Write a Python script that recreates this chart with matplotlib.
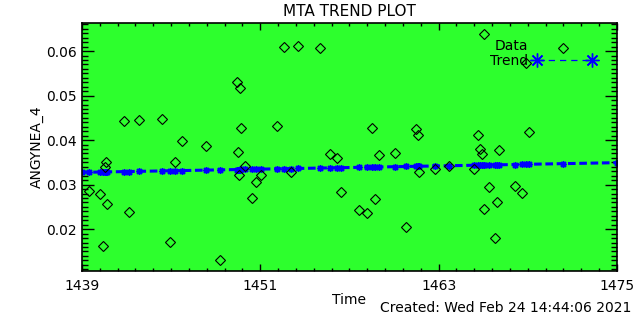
import matplotlib
matplotlib.use('Agg')
import matplotlib.pyplot as plt
import numpy as np
from matplotlib.lines import Line2D

# data
time = [1439.49, 1440.23, 1440.61, 1440.53, 1440.70, 1440.41, 1441.85, 1442.86,
        1442.18, 1444.40, 1445.75, 1445.28, 1447.36, 1444.92, 1448.29, 1449.45,
        1449.65, 1449.72, 1449.50, 1449.99, 1449.58, 1451.07, 1450.73, 1450.46,
        1452.14, 1452.61, 1453.56, 1455.04, 1453.08, 1455.69, 1456.18, 1456.45,
        1458.53, 1461.50, 1461.63, 1459.01, 1460.08, 1461.70, 1462.77, 1463.72,
        1458.74, 1457.66, 1458.20, 1460.82, 1465.40, 1465.67, 1465.78, 1465.90,
        1466.03, 1466.07, 1471.39, 1468.88, 1469.10, 1467.08, 1466.41, 1468.14,
        1468.63, 1466.93, 1466.81]
value = [0.02854, 0.02800, 0.03512, 0.03393, 0.02575, 0.01618, 0.04427, 0.04449,
         0.02396, 0.04472, 0.03978, 0.03506, 0.03865, 0.01708, 0.01303, 0.05303,
         0.05169, 0.04270, 0.03730, 0.03416, 0.03227, 0.03227, 0.03070, 0.02697,
         0.04315, 0.06090, 0.06112, 0.06067, 0.03294, 0.03685, 0.03596, 0.02831,
         0.04270, 0.04254, 0.04126, 0.03676, 0.03708, 0.03281, 0.03348, 0.03416,
         0.02674, 0.02427, 0.02360, 0.02045, 0.03348, 0.04112, 0.03811, 0.03685,
         0.06382, 0.02449, 0.06067, 0.05737, 0.04180, 0.03775, 0.02951, 0.02980,
         0.02822, 0.02607, 0.01798]

# trend end values
trend_start = 0.03276
trend_end = 0.03494
x_range = [1439, 1475]
y_range = [0.0106, 0.0663]

green = '#2dff2d'
star = (8, 2, 0)  # asterisk

fig = plt.figure(figsize=(6.4, 3.2), dpi=100)
ax = fig.add_axes([0.128, 0.153, 0.836, 0.775])
ax.set_facecolor(green)

t = np.sort(np.array(time))
slope = (trend_end - trend_start) / (x_range[1] - x_range[0])
tx = np.concatenate([[x_range[0]], t, [x_range[1]]])
ty = trend_start + slope * (tx - x_range[0])
ax.plot(tx, ty, color='blue', linestyle=(0, (2.5, 1.2)), lw=2.2, marker=star, markersize=5,
        markeredgewidth=1, zorder=2)

ax.plot(time, value, linestyle='none', marker='D', markersize=5.5,
        markerfacecolor='none', markeredgecolor='black', markeredgewidth=0.8, zorder=3)

ax.set_xlim(x_range)
ax.set_ylim(y_range)
ax.set_xticks([1439, 1451, 1463, 1475])
ax.set_xticks(np.arange(1439, 1475.01, 1.2), minor=True)
ax.set_yticks([0.02, 0.03, 0.04, 0.05, 0.06])
ax.set_yticks(np.arange(0.011, 0.0664, 0.001), minor=True)
ax.tick_params(axis='both', which='both', direction='in', top=True, right=True,
               labelsize=10, width=1)
ax.tick_params(axis='x', which='major', length=5, pad=6)
ax.tick_params(axis='x', which='minor', length=2.5)
ax.tick_params(axis='y', which='major', length=8.5)
ax.tick_params(axis='y', which='minor', length=4.3)
for s in ax.spines.values():
    s.set_linewidth(1.2)

ax.set_title('MTA TREND PLOT', fontsize=11, pad=5)
ax.set_xlabel('Time', fontsize=10, labelpad=0)
ax.set_ylabel('ANGYNEA_4', fontsize=10, labelpad=2)
fig.text(0.987, 0.015, 'Created: Wed Feb 24 14:44:06 2021', ha='right', va='bottom', fontsize=10)

handles = [Line2D([], [], linestyle='none'),
           Line2D([], [], color='blue', linestyle=(0, (5, 4)), lw=0.9, marker=star, markersize=10,
                  markeredgewidth=1)]
ax.legend(handles, ['Data', 'Trend'], loc='upper right', frameon=False, fontsize=10,
          markerfirst=False, numpoints=2, handlelength=4.6, handletextpad=0.3,
          labelspacing=0.1, borderaxespad=0.3, bbox_to_anchor=(0.98, 0.975))

fig.savefig('out.png', dpi=100)
